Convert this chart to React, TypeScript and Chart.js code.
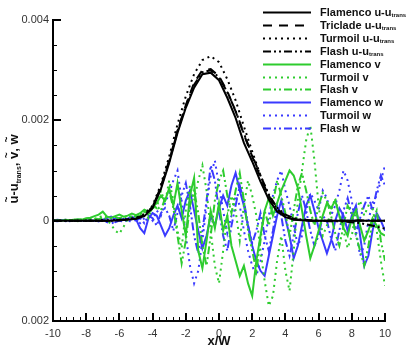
import { useEffect, useRef } from 'react';
import { Chart, registerables } from 'chart.js';

Chart.register(...registerables);

// x/W positions of the u-u_trans profiles
const X_COARSE = [-10,-9.5,-9,-8.5,-8,-7.5,-7,-6.5,-6,-5.5,-5,-4.5,-4,-3.5,-3,-2.5,-2,-1.5,-1,-0.5,0,0.5,1,1.5,2,2.5,3,3.5,4,4.5,5,5.5,6,6.5,7,7.5,8,8.5,9,9.5,10];
// x/W positions of the v and w profiles
const X_FINE = [-10,-9.75,-9.5,-9.25,-9,-8.75,-8.5,-8.25,-8,-7.75,-7.5,-7.25,-7,-6.75,-6.5,-6.25,-6,-5.75,-5.5,-5.25,-5,-4.75,-4.5,-4.25,-4,-3.75,-3.5,-3.25,-3,-2.75,-2.5,-2.25,-2,-1.75,-1.5,-1.25,-1,-0.75,-0.5,-0.25,0,0.25,0.5,0.75,1,1.25,1.5,1.75,2,2.25,2.5,2.75,3,3.25,3.5,3.75,4,4.25,4.5,4.75,5,5.25,5.5,5.75,6,6.25,6.5,6.75,7,7.25,7.5,7.75,8,8.25,8.5,8.75,9,9.25,9.5,9.75,10];

// values in units of 1e-4
const UNIT = 1e-4;
const FLAMENCO_U = [0,0,0,0,0,0,0,0,0.1,0.2,0.4,0.9,2.5,6.3,11.5,17.5,22.5,26.5,29.2,29.5,28,24.5,20.5,15.5,11.8,7.8,4.2,1.8,0.7,0.2,0.1,0,0,0,0,0,0,0,0,0,0];
const TRICLADE_U = [0,0,0,0,0,0,0,0,0.1,0.2,0.4,1.0,2.7,6.8,12,18,23,27.5,30,30.2,28.8,25.8,21.8,17.2,12.8,8.6,4.9,2.3,1.0,0.4,0.1,0,0,0,0.1,0,0,0.1,0,0,0];
const TURMOIL_U = [0,0,0,0,0,0,0.1,0.1,0.2,0.3,0.6,1.3,3.0,7.2,12.8,19.2,24.8,29.2,32,32.8,31.6,28.2,24,18.8,13.8,9,5,2.3,0.9,0.3,0.1,0,0,0,0,0,0,0,0,0,0];
const FLASH_U = [0,0,0,0,0,0,0,0,0.1,0.3,0.5,1.1,2.8,6.6,11.8,17.8,22.9,27.1,29.6,30,28.6,25.6,21.9,17.4,13,9,5.2,2.6,1.2,0.5,0.2,0.1,0,-0.1,-0.1,-0.2,-0.3,-0.5,-0.8,-1.2,-1.6];

const FLAMENCO_V = [0,0.1,0,0.2,0.1,0.2,0.3,0.2,0.5,0.6,0.9,1.2,1.8, 0.8,0.6,0.9,1.2,0.8,1.0,1.4,1.1, 1.5,2.2,1.8,2.8,3.5,5.0,4.0,6.5, 3.0,7.5,2.0,-3.0,5.0,8.5,-6.0,-9.5, -4.0,2.0,-1.5,3.5,-2.0,1.0,-5.0,-8.0, -11.0,-9.0,-12.5,-15.0,-8.0,-3.0,2.0,4.5, 1.0,3.5,6.0,8.0,10.0,9.0,6.5,2.0, -3.0,-7.5,-5.0,-2.0,1.0,3.5,2.5,4.0, 1.0,-1.5,-3.0,0.5,2.0,-1.0,-4.0,-2.0, 0.5,-1.0,-2.5,-3.0];
const TURMOIL_V = [0,-0.1,0,0.1,0,0.2,-0.1,0.1,0.2,0.4,0.3,0.6,1.0, 0.2,-0.8,-2.0,-2.6,-1.2,0.3,0.8,0.5, 1.2,2.0,0.5,3.0,2.5,6.0,3.5,8.0, 4.0,-2.0,-5.5,2.0,7.0,4.0,8.0,11.0, 6.0,-2.0,-9.0,-12.5,-6.0,1.0,5.0,2.0, -4.0,3.0,8.0,5.0,1.0,-6.0,-12.0,-17.0, -15.0,-8.0,-3.0,-10.0,-14.0,-6.0,4.0,10.0, 16.0,19.0,12.0,3.0,-3.0,-1.0,2.0,4.5, 1.0,-2.0,-5.5,-3.0,2.0,4.0,1.0,3.0, 2.5,-2.0,-8.0,-13.0];
const FLASH_V = [0,0,0.1,0,0.1,0.2,0.1,0.3,0.2,0.4,0.5,0.3,0.6, 0.8,0.5,0.7,0.4,0.9,0.6,1.0,0.8, 1.0,1.8,1.2,2.5,3.0,2.0,4.5,6.0, 2.5,-3.0,-8.5,-4.0,3.0,6.0,1.5,-5.0, -9.0,-3.0,4.0,8.0,10.0,5.0,1.5,6.0, 9.5,4.0,-2.0,-6.0,-10.0,-4.0,2.0,-1.0, 3.5,8.0,5.0,1.5,-3.0,2.0,7.0,9.5, 6.0,2.0,-1.0,3.0,5.5,4.0,1.0,-2.5, -5.0,-1.0,3.0,1.5,-3.0,-6.0,-9.0,-5.0, 0.0,2.0,-4.0,-8.0];
const FLAMENCO_W = [0,0.2,0.1,0.2,0,0.1,0.2,0.1,0,0.1,0,-0.1,0.2, 0.5,0.8,0.3,0.5,0.2,0.4,0.8,0.3, -1.5,-2.5,0.5,1.5,1.0,-1.0,-3.0,-1.5, 1.0,3.0,0.5,4.0,6.0,2.0,-2.0,-5.5, -3.0,1.0,-1.0,2.5,5.0,3.0,7.0,9.5, 6.0,3.0,-1.0,-5.0,-8.0,-10.0,-11.0,-7.0, -3.0,1.0,4.0,0.5,-3.0,-7.5,-5.0,-1.0, 3.0,5.0,2.0,-1.5,-4.0,-6.5,-4.0,0.0, 2.5,1.0,-2.0,1.0,3.0,-3.0,-9.0,-7.0, -2.0,1.5,0.0,-2.0];
const TURMOIL_W = [0,0,0.1,-0.1,0,0.1,0,-0.1,0,0.1,0,0,0.1, -0.3,-0.6,-0.2,0.1,0.3,0,-0.2,0.2, -0.5,0.5,1.0,0.0,2.0,1.0,3.5,5.5, 8.0,10.0,4.0,-3.0,-9.0,-12.5,-10.0,-4.0, 3.0,9.0,12.0,7.0,2.0,-2.5,1.0,5.0, 3.0,-2.0,-6.0,-9.0,-11.0,-8.0,-4.0,1.0, 5.0,8.0,10.0,6.0,3.0,-1.0,-5.0,-3.0, 2.0,5.5,4.0,2.0,6.0,4.5,1.0,3.0, 6.0,10.0,8.0,4.0,-2.0,-7.0,-5.0,0.0, 3.5,5.0,8.0,11.0];
const FLASH_W = [0,-0.1,0,0.1,-0.1,0,0.1,-0.1,0,0,0.1,-0.1,0, -0.2,0.1,-0.3,0,-0.2,0.1,0.3,0, 0.5,-0.5,1.0,0.5,-1.0,1.5,2.5,1.0, -2.0,1.5,5.0,7.5,3.0,-3.0,-6.5,-2.0, 4.0,11.0,8.0,2.0,-3.0,-6.0,-1.0,3.0, 7.0,4.0,-1.0,-4.5,-2.0,1.5,-3.0,-6.0, -2.0,3.0,1.0,-4.0,-7.0,-3.0,1.5,5.0, 2.0,-2.0,-5.0,-3.0,1.0,0.0,-3.5,-6.0, -2.0,2.0,4.5,1.0,-2.5,0.5,3.0,5.0, 2.0,6.0,9.0,7.0];

const Y_TICKS = [-0.002, 0, 0.002, 0.004];
const Y_TICK_LABELS = ['0.002', '0', '0.002', '0.004'];

const BLACK = '#000000';
const GREEN = '#2ecc2e';
const BLUE = '#3a3aff';

const SOLID: number[] = [];
const DASH = [9, 7];
const DOT = [2, 4];
const DASHDOT = [8, 3, 2, 3, 2, 3];

type Series = { label: string; sub?: string; xs: number[]; ys: number[]; color: string; dash: number[] };

const SERIES: Series[] = [
  { label: 'Flamenco u-u', sub: 'trans', xs: X_COARSE, ys: FLAMENCO_U, color: BLACK, dash: SOLID },
  { label: 'Triclade u-u', sub: 'trans', xs: X_COARSE, ys: TRICLADE_U, color: BLACK, dash: DASH },
  { label: 'Turmoil u-u', sub: 'trans', xs: X_COARSE, ys: TURMOIL_U, color: BLACK, dash: DOT },
  { label: 'Flash u-u', sub: 'trans', xs: X_COARSE, ys: FLASH_U, color: BLACK, dash: DASHDOT },
  { label: 'Flamenco v', xs: X_FINE, ys: FLAMENCO_V, color: GREEN, dash: SOLID },
  { label: 'Turmoil v', xs: X_FINE, ys: TURMOIL_V, color: GREEN, dash: DOT },
  { label: 'Flash v', xs: X_FINE, ys: FLASH_V, color: GREEN, dash: DASHDOT },
  { label: 'Flamenco w', xs: X_FINE, ys: FLAMENCO_W, color: BLUE, dash: SOLID },
  { label: 'Turmoil w', xs: X_FINE, ys: TURMOIL_W, color: BLUE, dash: DOT },
  { label: 'Flash w', xs: X_FINE, ys: FLASH_W, color: BLUE, dash: DASHDOT },
];

const FONT = '"Liberation Sans", Arial, Helvetica, sans-serif';

const decorPlugin = {
  id: 'decor',
  afterDraw(chart: any) {
    const ctx: CanvasRenderingContext2D = chart.ctx;
    const xs = chart.scales.x;
    const ys = chart.scales.y;
    const { left, right, top, bottom } = chart.chartArea;
    ctx.save();
    ctx.setLineDash([]);
    ctx.fillStyle = '#000';
    // axes
    ctx.fillRect(left - 1, top - 1, 2, bottom - top + 2);
    ctx.fillRect(left - 1, bottom - 1, right - left + 2, 2);
    // ticks (inward)
    for (let k = 0; k <= 12; k++) {
      const v = -0.002 + k * 0.0005;
      const p = Math.round(ys.getPixelForValue(v));
      const major = k % 4 === 0;
      if (major) ctx.fillRect(left, p - 1, 8, 2);
      else ctx.fillRect(left, p, 4, 1);
    }
    for (let k = 0; k <= 50; k++) {
      const v = -10 + k * 0.4;
      const p = Math.round(xs.getPixelForValue(v));
      const major = k % 5 === 0;
      if (major) ctx.fillRect(p - 1, bottom - 8, 2, 8);
      else ctx.fillRect(p, bottom - 4, 1, 4);
    }
    // x title
    ctx.fillStyle = '#111';
    ctx.font = `bold 13px ${FONT}`;
    ctx.textAlign = 'center';
    ctx.textBaseline = 'middle';
    ctx.fillText('x/W', (left + right) / 2, 341);

    // y title (rotated)
    ctx.save();
    ctx.translate(18, 169);
    ctx.rotate(-Math.PI / 2);
    const pieces: { t: string; tilde?: boolean; sub?: boolean }[] = [
      { t: 'u', tilde: true }, { t: '-u' }, { t: 'trans', sub: true }, { t: ', ' },
      { t: 'v', tilde: true }, { t: ', ' }, { t: 'w', tilde: true },
    ];
    const mainFont = `bold 13px ${FONT}`;
    const subFont = `bold 7px ${FONT}`;
    let total = 0;
    for (const pc of pieces) {
      ctx.font = pc.sub ? subFont : mainFont;
      total += ctx.measureText(pc.t).width;
    }
    let cx = -total / 2;
    ctx.textAlign = 'left';
    ctx.textBaseline = 'alphabetic';
    for (const pc of pieces) {
      ctx.font = pc.sub ? subFont : mainFont;
      const w = ctx.measureText(pc.t).width;
      ctx.fillText(pc.t, cx, pc.sub ? 3 : 0);
      if (pc.tilde) {
        ctx.font = `bold 10px ${FONT}`;
        ctx.textAlign = 'center';
        ctx.fillText('~', cx + w / 2, -8);
        ctx.textAlign = 'left';
      }
      cx += w;
    }
    ctx.restore();

    // legend
    SERIES.forEach((s, i) => {
      const y = Math.round(12 + 12.9 * i) + 0.5;
      ctx.strokeStyle = s.color;
      ctx.lineWidth = 2;
      ctx.setLineDash(s.dash);
      ctx.beginPath();
      ctx.moveTo(263, y);
      ctx.lineTo(311, y);
      ctx.stroke();
      ctx.setLineDash([]);
      ctx.fillStyle = '#111';
      ctx.font = `bold 11px ${FONT}`;
      ctx.textAlign = 'left';
      ctx.textBaseline = 'middle';
      ctx.fillText(s.label, 320, y);
      if (s.sub) {
        const w = ctx.measureText(s.label).width;
        ctx.font = `bold 6px ${FONT}`;
        ctx.fillText(s.sub, 320 + w, y + 3);
      }
    });
    ctx.restore();
  },
};

export default function App() {
  const ref = useRef<HTMLCanvasElement | null>(null);
  useEffect(() => {
    if (!ref.current) return;
    const chart = new Chart(ref.current, {
      type: 'line',
      data: {
        datasets: SERIES.map((s) => ({
          label: s.label,
          data: s.xs.map((x, i) => ({ x, y: s.ys[i] * UNIT })),
          borderColor: s.color,
          backgroundColor: s.color,
          borderWidth: 2,
          borderDash: s.dash,
          pointRadius: 0,
          tension: 0,
          fill: false,
        })),
      },
      options: {
        responsive: false,
        animation: false,
        parsing: false,
        layout: { padding: { left: 0, top: 20, right: 22, bottom: 0 } },
        plugins: { legend: { display: false }, tooltip: { enabled: false }, title: { display: false } },
        scales: {
          x: {
            type: 'linear',
            min: -10,
            max: 10,
            grid: { display: false, drawTicks: false },
            border: { display: false },
            ticks: { stepSize: 2, padding: 6, color: '#333', font: { family: FONT, size: 11 }, maxRotation: 0 },
            afterFit: (s: any) => { s.height = 41; },
          },
          y: {
            type: 'linear',
            min: -0.002,
            max: 0.004,
            grid: { display: false, drawTicks: false },
            border: { display: false },
            afterBuildTicks: (s: any) => { s.ticks = Y_TICKS.map((v) => ({ value: v })); },
            ticks: {
              padding: 4,
              color: '#333',
              font: { family: FONT, size: 11 },
              callback: (v: any) => {
                const idx = Y_TICKS.findIndex((t) => Math.abs(t - Number(v)) < 1e-9);
                return idx >= 0 ? Y_TICK_LABELS[idx] : '';
              },
            },
            afterFit: (s: any) => { s.width = 53; },
          },
        },
      },
      plugins: [decorPlugin],
    });
    return () => chart.destroy();
  }, []);
  return (
    <div style={{ position: 'absolute', left: 0, top: 0, width: 407, height: 362, background: '#fff' }}>
      <canvas ref={ref} width={407} height={362} style={{ display: 'block' }} />
    </div>
  );
}
